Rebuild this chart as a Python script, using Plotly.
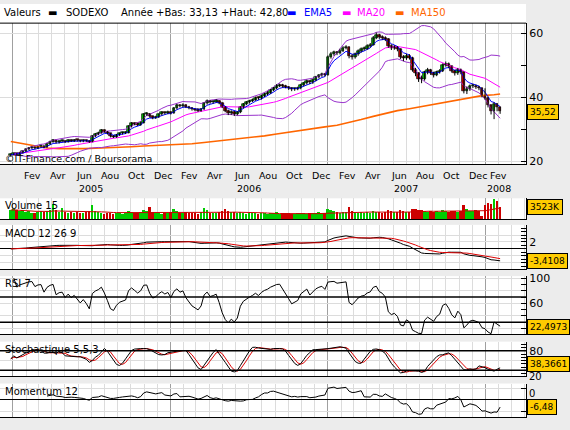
import pandas as pd
import numpy as np
import plotly.graph_objects as go

W, H = 570, 430

# ---------------- data (weekly) ----------------
week_start = "2004-12-27"
open_ = [21.8,22.0,22.3,22.0,22.6,23.0,23.6,24.0,24.2,24.0,24.5,24.6,24.3,25.3,26.0,26.4,25.8,26.2,26.3,26.0,
         26.5,26.3,26.6,26.4,26.2,26.5,26.3,26.0,27.8,28.4,28.8,29.6,29.2,28.6,27.8,27.6,28.2,28.6,28.8,28.9,
         30.8,31.8,31.6,31.4,32.0,34.6,34.8,34.0,33.5,33.8,34.6,35.2,35.0,35.4,35.0,36.5,37.5,37.2,37.6,37.0,
         36.6,36.2,36.0,35.8,36.2,38.0,38.8,38.4,38.6,38.9,38.2,37.0,35.8,35.0,35.4,34.8,35.2,36.8,37.8,38.4,
         38.8,39.2,39.8,39.6,40.4,41.0,41.4,42.2,42.8,43.6,43.8,43.5,43.2,42.8,42.4,42.6,42.8,43.8,44.4,45.0,
         44.6,45.4,46.2,46.8,47.2,47.0,52.6,53.5,54.0,53.8,54.6,55.4,55.6,53.0,52.6,53.4,54.4,55.0,55.2,56.0,
         56.4,58.6,59.4,58.8,58.6,58.2,56.0,55.4,55.6,55.0,52.6,52.2,53.0,52.4,48.6,47.4,45.8,45.6,47.8,48.4,
         47.6,47.0,47.8,48.2,50.0,50.4,49.6,48.2,47.4,48.6,47.8,42.0,42.6,43.4,43.6,43.2,42.8,40.4,39.8,37.4,
         35.6,37.8,36.8]
high = [22.4,22.6,22.5,22.9,23.3,23.9,24.4,24.6,24.5,24.8,25.0,24.8,25.6,26.4,26.9,26.6,26.5,26.7,26.5,26.8,
        26.8,26.9,26.8,26.6,26.8,26.7,26.5,28.1,28.8,29.2,30.0,29.9,29.4,28.8,28.1,28.5,28.9,29.2,29.3,31.2,
        32.2,32.1,31.9,32.4,35.0,35.3,35.0,34.2,34.2,34.9,35.6,35.5,35.8,35.6,36.9,37.9,37.8,38.1,37.8,37.3,
        36.9,36.5,36.3,36.6,38.4,39.3,39.1,39.0,39.4,39.1,38.4,37.2,36.1,35.9,35.7,35.6,37.2,38.2,38.8,39.2,
        39.6,40.2,40.2,40.8,41.4,41.9,42.6,43.2,44.1,44.3,44.2,43.9,43.5,43.1,43.0,43.3,44.2,44.8,45.5,45.3,
        45.8,46.7,47.2,47.7,47.6,53.1,54.2,54.6,54.5,55.2,56.0,56.3,55.9,53.5,54.0,55.0,55.6,55.9,56.6,57.0,
        59.2,60.3,59.9,59.4,59.1,58.5,56.6,56.3,56.0,55.3,53.2,53.6,53.5,52.7,49.2,47.8,46.8,48.3,49.2,48.9,
        48.0,48.3,48.8,50.6,51.2,50.9,49.9,48.6,49.2,49.0,48.1,43.4,44.0,44.2,44.0,43.6,43.0,42.8,40.2,37.8,
        38.4,38.2,37.0]
low = [21.5,21.8,21.7,21.9,22.4,22.8,23.4,23.8,23.7,23.8,24.2,24.0,24.1,25.1,25.8,25.5,25.5,25.9,25.7,25.8,
       26.0,26.0,26.1,25.9,25.9,26.0,25.7,25.9,27.5,28.1,28.6,28.9,28.3,27.4,27.2,27.3,27.9,28.3,28.5,28.7,
       30.5,31.2,31.0,31.1,31.8,34.2,33.6,33.1,33.2,33.5,34.3,34.6,34.7,34.6,34.8,36.2,36.8,36.9,36.6,36.2,
       35.8,35.6,35.4,35.5,36.0,37.7,38.0,38.0,38.3,37.8,36.6,35.3,34.4,34.5,34.1,34.3,35.0,36.5,37.5,38.0,
       38.5,38.9,39.2,39.3,40.1,40.7,41.1,41.9,42.5,43.2,43.0,42.8,42.3,41.9,42.0,42.2,42.5,43.4,44.0,44.1,
       44.2,45.0,45.9,46.4,46.5,46.8,52.1,53.0,53.2,53.4,54.2,55.0,52.2,51.8,52.1,53.0,54.0,54.6,54.9,55.6,
       56.2,58.2,58.3,58.0,57.6,55.5,54.8,54.9,54.4,52.0,51.3,51.7,51.8,48.0,46.6,44.8,44.4,45.2,47.2,47.0,
       46.2,46.6,47.4,47.9,49.6,49.1,47.7,46.8,47.0,47.2,41.2,41.0,42.0,42.9,42.6,42.2,40.0,39.2,36.8,34.6,
       33.13,35.6,34.8]
close = [22.0,22.3,22.0,22.6,23.0,23.6,24.0,24.2,24.0,24.5,24.6,24.3,25.3,26.0,26.4,25.8,26.2,26.3,26.0,26.5,
         26.3,26.6,26.4,26.2,26.5,26.3,26.0,27.8,28.4,28.8,29.6,29.2,28.6,27.8,27.6,28.2,28.6,28.8,28.9,30.8,
         31.8,31.6,31.4,32.0,34.6,34.8,34.0,33.5,33.8,34.6,35.2,35.0,35.4,35.0,36.5,37.5,37.2,37.6,37.0,36.6,
         36.2,36.0,35.8,36.2,38.0,38.8,38.4,38.6,38.9,38.2,37.0,35.8,35.0,35.4,34.8,35.2,36.8,37.8,38.4,38.8,
         39.2,39.8,39.6,40.4,41.0,41.4,42.2,42.8,43.6,43.8,43.5,43.2,42.8,42.4,42.6,42.8,43.8,44.4,45.0,44.6,
         45.4,46.2,46.8,47.2,47.0,52.6,53.5,54.0,53.8,54.6,55.4,55.6,53.0,52.6,53.4,54.4,55.0,55.2,56.0,56.4,
         58.6,59.4,58.8,58.6,58.2,56.0,55.4,55.6,55.0,52.6,52.2,53.0,52.4,48.6,47.4,45.8,45.6,47.8,48.4,47.6,
         47.0,47.8,48.2,50.0,50.4,49.6,48.2,47.4,48.6,47.8,42.0,42.6,43.4,43.6,43.2,42.8,40.4,39.8,37.4,35.6,
         37.8,36.8,35.52]
volume_k = [2600,2800,2400,2200,2500,1900,2300,1700,1500,2000,2100,1800,2200,2600,4300,2400,1800,3200,2000,1700,
            1900,1600,1800,1500,1700,1900,2100,3900,2300,1800,1600,1400,1500,1700,1300,1500,1600,1400,1700,2200,
            2000,1600,1500,1900,2400,2100,3400,1800,1600,1500,1400,1700,1500,1800,2900,2300,1700,1600,1800,1500,
            1700,1600,1400,1800,3000,2400,1700,1600,1500,1900,2300,2900,2100,1800,1900,1600,1800,1500,1400,1600,
            1500,1700,1400,1500,1600,1300,1700,1500,1800,1400,1600,1500,1700,1400,1300,1500,1600,1500,1400,1700,
            1500,1600,1800,1500,1700,2700,2400,2100,1900,1700,1800,2000,3300,2200,1800,1700,1900,1600,1800,1700,
            2300,2000,1800,1700,1900,2400,2100,1800,1900,2600,2300,1900,2000,2700,2900,2500,2400,2200,2000,2100,
            1900,2300,2000,2500,2200,2000,2300,2100,2000,2300,3900,2800,2300,2100,2400,2200,900,4000,4600,4200,
            5700,5000,3523]

ma150_dates = ["2004-12-27","2005-01-24","2005-02-21","2005-03-21","2005-04-18","2005-05-16","2005-06-13",
               "2005-07-11","2005-08-08","2005-09-05","2005-10-03","2005-10-31","2005-11-28","2005-12-26",
               "2006-01-23","2006-02-20","2006-03-20","2006-04-17","2006-05-15","2006-06-12","2006-07-10",
               "2006-08-07","2006-09-04","2006-10-02","2006-10-30","2006-11-27","2006-12-25","2007-01-22",
               "2007-02-19","2007-03-19","2007-04-16","2007-05-14","2007-06-11","2007-07-09","2007-08-06",
               "2007-09-03","2007-10-01","2007-10-29","2007-11-26","2007-12-24","2008-01-21","2008-02-04"]
ma150_vals = [26.1,25.5,24.8,24.1,23.9,23.8,23.9,24.0,24.1,24.3,24.5,24.7,24.9,25.0,
              25.1,25.4,25.8,26.2,26.6,27.0,27.4,27.9,28.5,29.1,29.6,30.1,30.7,31.2,
              32.0,33.0,34.0,35.0,35.8,36.4,37.1,37.8,38.5,39.2,39.8,40.5,40.8,41.0]

month_labels = ["Fev", "Avr", "Jun", "Aou", "Oct", "Dec"]
month_numbers = [2, 4, 6, 8, 10, 12]
year_labels = ["2005", "2006", "2007", "2008"]

last_price, last_price_txt = 35.52, "35,52"
last_vol, last_vol_txt = 3523, "3523K"
last_macd, last_macd_txt = -3.4108, "-3,4108"
last_rsi, last_rsi_txt = 22.4973, "22,4973"
last_stoch, last_stoch_txt = 38.3661, "38,3661"
last_mom, last_mom_txt = -6.48, "-6,48"

rsi_levels = [30, 70]
stoch_levels = [20, 80]

# ---------------- indicators ----------------
dates = pd.date_range(week_start, periods=len(close), freq="7D")
c = pd.Series(close, index=dates)
hi = pd.Series(high, index=dates)
lo = pd.Series(low, index=dates)
vol = pd.Series(volume_k, index=dates)

ema5 = c.ewm(span=5, adjust=False).mean()
ma20 = c.rolling(20, min_periods=1).mean()
sd20 = c.rolling(20, min_periods=2).std(ddof=0)
bb_up = ma20 + 2 * sd20
bb_dn = ma20 - 2 * sd20
vol_ma = vol.rolling(15, min_periods=1).mean()
macd = c.ewm(span=12, adjust=False).mean() - c.ewm(span=26, adjust=False).mean()
sig = macd.ewm(span=9, adjust=False).mean()
d = c.diff()
g = d.clip(lower=0).ewm(alpha=1/7, adjust=False).mean()
l = (-d.clip(upper=0)).ewm(alpha=1/7, adjust=False).mean()
rsi = 100 - 100 / (1 + g / l)
ll = lo.rolling(5, min_periods=1).min()
hh = hi.rolling(5, min_periods=1).max()
rawk = 100 * (c - ll) / (hh - ll)
stk = rawk.rolling(5, min_periods=1).mean()
std_ = stk.rolling(3, min_periods=1).mean()
mom = c - c.shift(12)

# ---------------- layout helpers ----------------
def py(y):
    return 1 - y / H

def px(x):
    return x / W

XDOM = [0, px(526)]
XR = ["2004-12-02", "2008-04-04"]
FONT = "DejaVu Sans"
GRID = "#dcdcdc"
YEARGRID = "#a0a0a0"
DAY_MS = 86400000

fig = go.Figure()

fig.add_trace(go.Scatter(x=pd.to_datetime(ma150_dates), y=ma150_vals, mode="lines",
                         line=dict(color="#ff6600", width=1.6), xaxis="x", yaxis="y", showlegend=False))
for band in (bb_up, bb_dn):
    fig.add_trace(go.Scatter(x=dates, y=band, mode="lines", line=dict(color="#9933cc", width=1),
                             xaxis="x", yaxis="y", showlegend=False))
fig.add_trace(go.Scatter(x=dates, y=ma20, mode="lines", line=dict(color="#ff00ff", width=1),
                         xaxis="x", yaxis="y", showlegend=False))
fig.add_trace(go.Scatter(x=dates, y=ema5, mode="lines", line=dict(color="#0000ff", width=1),
                         xaxis="x", yaxis="y", showlegend=False))

wx, wy = [], []
for dt, h_, l_ in zip(dates, high, low):
    wx += [dt, dt, None]
    wy += [l_, h_, None]
fig.add_trace(go.Scatter(x=wx, y=wy, mode="lines", line=dict(color="black", width=1),
                         xaxis="x", yaxis="y", showlegend=False, hoverinfo="skip"))
body_base = [min(o, cc) for o, cc in zip(open_, close)]
body_len = [max(abs(cc - o), 0.35) for o, cc in zip(open_, close)]
body_col = ["#00cc00" if cc >= o else "#cc0000" for o, cc in zip(open_, close)]
fig.add_trace(go.Bar(x=dates, y=body_len, base=body_base, width=6.4 * DAY_MS,
                     marker=dict(color=body_col, line=dict(color="black", width=0.7)),
                     xaxis="x", yaxis="y", showlegend=False, hoverinfo="skip"))

fig.add_trace(go.Bar(x=dates, y=volume_k, marker=dict(color=body_col, line=dict(width=0)),
                     width=4.6 * DAY_MS, xaxis="x2", yaxis="y2", showlegend=False))
fig.add_trace(go.Scatter(x=dates, y=vol_ma, mode="lines", line=dict(color="#cc0000", width=1),
                         xaxis="x2", yaxis="y2", showlegend=False))

fig.add_trace(go.Scatter(x=dates, y=macd, mode="lines", line=dict(color="black", width=1),
                         xaxis="x3", yaxis="y3", showlegend=False))
fig.add_trace(go.Scatter(x=dates, y=sig, mode="lines", line=dict(color="#dd0000", width=1),
                         xaxis="x3", yaxis="y3", showlegend=False))

fig.add_trace(go.Scatter(x=dates, y=rsi, mode="lines", line=dict(color="black", width=1),
                         xaxis="x4", yaxis="y4", showlegend=False))

fig.add_trace(go.Scatter(x=dates, y=std_, mode="lines", line=dict(color="#dd0000", width=1),
                         xaxis="x5", yaxis="y5", showlegend=False))
fig.add_trace(go.Scatter(x=dates, y=stk, mode="lines", line=dict(color="black", width=1),
                         xaxis="x5", yaxis="y5", showlegend=False))

fig.add_trace(go.Scatter(x=dates, y=mom, mode="lines", line=dict(color="black", width=1),
                         xaxis="x6", yaxis="y6", showlegend=False))

def xax(anchor):
    return dict(domain=XDOM, range=XR, type="date", anchor=anchor, showticklabels=False,
                ticks="", tick0="2005-01-01", dtick="M12", showgrid=True, gridcolor=YEARGRID, gridwidth=1,
                minor=dict(tick0="2005-01-01", dtick="M1", showgrid=True, gridcolor=GRID, gridwidth=1, ticks=""),
                showline=True, linecolor="black", linewidth=1, zeroline=False, layer="below traces")

def yax(anchor, dom, rng, tickvals, ticktext, minor_dtick, grid=True, zeroline=False):
    return dict(domain=dom, range=rng, anchor=anchor, side="right", showline=True, linecolor="black",
                linewidth=1, ticks="inside", ticklen=5, tickcolor="black", tickwidth=1,
                tickvals=tickvals, ticktext=ticktext, tickfont=dict(family=FONT, size=11, color="black"),
                showgrid=grid, gridcolor=GRID, zeroline=zeroline, zerolinecolor="black", zerolinewidth=1,
                minor=dict(dtick=minor_dtick, ticks="inside", ticklen=5, tickcolor="black", showgrid=False),
                fixedrange=True, layer="below traces")

doms = {
    "y": [py(163), py(19.5)],
    "y2": [py(219), py(198)],
    "y3": [py(270), py(225)],
    "y4": [py(336.7), py(277.3)],
    "y5": [py(379.3), py(344)],
    "y6": [py(421), py(386.7)],
}

layout = dict(width=W, height=H, margin=dict(l=0, r=0, t=0, b=0), paper_bgcolor="#ececec",
              plot_bgcolor="white", showlegend=False, font=dict(family=FONT, size=10, color="black"),
              bargap=0, barmode="overlay")
layout["xaxis"] = xax("y")
for k in range(2, 7):
    layout["xaxis%d" % k] = xax("y%d" % k)
layout["yaxis"] = yax("x", doms["y"], [19.08, 63.23], [20, 40, 60], ["20", "40", "60"], 10)
layout["yaxis2"] = yax("x2", doms["y2"], [0, 6000], [], [], 100000, grid=False)
layout["yaxis3"] = yax("x3", doms["y3"], [-5.86, 7.0], [-4, -2, 0, 2, 4], ["", "", "", "2", ""], 1,
                       zeroline=True)
layout["yaxis4"] = yax("x4", doms["y4"], [10.7, 103.1], [20, 40, 60, 80, 100], ["", "", "60", "", "100"], 10)
layout["yaxis5"] = yax("x5", doms["y5"], [2, 108], [20, 50, 80], ["", "", "80"], 10)
layout["yaxis6"] = yax("x6", doms["y6"], [-15.4, 14.4], [-10, 0, 10], ["", "", ""], 10, zeroline=True)
fig.update_layout(**layout)

shapes = []
shapes.append(dict(type="rect", xref="paper", yref="paper", x0=0, x1=px(526), y0=py(163), y1=1,
                   fillcolor="white", line=dict(width=0), layer="below"))
shapes.append(dict(type="line", xref="paper", yref="paper", x0=0, x1=px(526), y0=py(19.5), y1=py(19.5),
                   line=dict(color="black", width=1)))
for lv in rsi_levels:
    shapes.append(dict(type="line", xref="x4 domain", yref="y4", x0=0, x1=1, y0=lv, y1=lv,
                       line=dict(color="black", width=1.5)))
for lv in stoch_levels:
    shapes.append(dict(type="line", xref="x5 domain", yref="y5", x0=0, x1=1, y0=lv, y1=lv,
                       line=dict(color="black", width=1.5)))
fig.update_layout(shapes=shapes)

ann = []
def txt(x, y, s, color="black", size=10, xanchor="left"):
    ann.append(dict(x=x, y=y, xref="paper", yref="paper", text=s, showarrow=False, xanchor=xanchor,
                    yanchor="middle", font=dict(family=FONT, size=size, color=color)))

txt(px(2), py(9), "Valeurs")
txt(px(46), py(9), "▬")
txt(px(64), py(9), "SODEXO")
txt(px(119), py(9), "Année +Bas: 33,13 +Haut: 42,80")
txt(px(285), py(9), "▬", color="#0000ff")
txt(px(302), py(9), "EMA5", color="#0000ff")
txt(px(340), py(9), "▬", color="#ff00ff")
txt(px(355), py(9), "MA20", color="#ff00ff")
txt(px(393), py(9), "▬", color="#ff6600")
txt(px(409), py(9), "MA150", color="#ff6600")
txt(px(3), py(157), "©IT-Finance.com / Boursorama", size=9.5)

txt(px(3), py(205.5), "Volume 15")
txt(px(3), py(234), "MACD 12 26 9")
txt(px(3), py(285), "RSI 7")
txt(px(3), py(352.5), "Stochastique 5,5,3")
txt(px(3), py(395), "Momentum 12")

# axis labels partly tucked beside the value boxes (as in the reference)
txt(px(527), py(380), "20", size=10)
txt(px(527), py(397), "0", size=10)

for yr in [2005, 2006, 2007]:
    for m, lab in zip(month_numbers, month_labels):
        ann.append(dict(x="%d-%02d-15" % (yr, m), y=py(175), xref="x", yref="paper", text=lab,
                        showarrow=False, xanchor="center", yanchor="middle",
                        font=dict(family=FONT, size=9.5, color="black")))
ann.append(dict(x="2008-02-01", y=py(175), xref="x", yref="paper", text=month_labels[0], showarrow=False,
                xanchor="center", yanchor="middle", font=dict(family=FONT, size=9.5, color="black")))
for lab, dt in zip(year_labels, ["2005-07-01", "2006-07-01", "2007-07-01", "2008-02-01"]):
    ann.append(dict(x=dt, y=py(188), xref="x", yref="paper", text=lab, showarrow=False,
                    xanchor="center", yanchor="middle", font=dict(family=FONT, size=9.5, color="black")))

def box(yref, val, s):
    ann.append(dict(x=px(527), y=val, xref="paper", yref=yref, text=s, showarrow=False, xanchor="left",
                    yanchor="middle", bgcolor="#ffcc00", bordercolor="black", borderwidth=1, borderpad=2,
                    font=dict(family=FONT, size=9, color="black")))

box("y", last_price, last_price_txt)
box("y2", last_vol, last_vol_txt)
box("y3", last_macd, last_macd_txt)
box("y4", last_rsi, last_rsi_txt)
box("y5", last_stoch, last_stoch_txt)
box("y6", last_mom, last_mom_txt)

fig.update_layout(annotations=ann)
fig.write_html("out.html")
